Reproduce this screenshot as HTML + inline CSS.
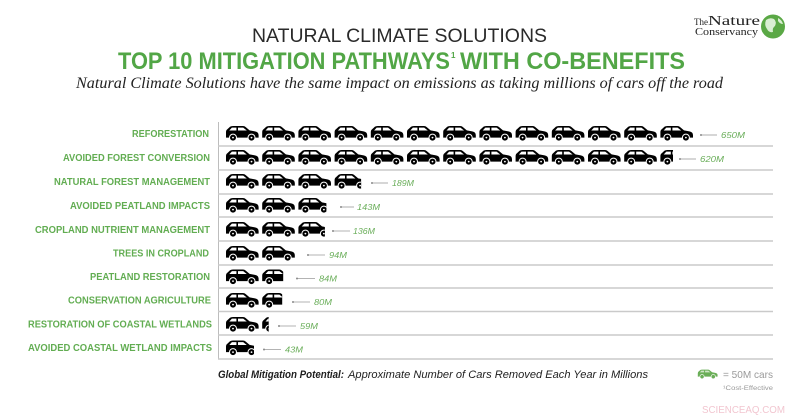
<!DOCTYPE html>
<html>
<head>
<meta charset="utf-8">
<style>
html,body{margin:0;padding:0;background:#fff;}
svg{display:block;}
</style>
</head>
<body>
<svg width="800" height="418" viewBox="0 0 800 418" xmlns="http://www.w3.org/2000/svg">
<defs>
  <symbol id="car" viewBox="0 0 34 16.5" width="34" height="16.5" overflow="visible">
    <path d="M1,12.6 L1,7 Q1,5 2.6,4 L5,1.8 Q6,1 8,1 L18,1 Q19.6,1 20.6,2 L24.6,5.4 L30,6.4 Q33.6,7.2 33.6,10 L33.6,12.6 Z" fill="#000"/>
    <path d="M4.3,5.5 L6.9,2.6 L11.4,2.6 L11.4,5.5 Z" fill="#fff"/>
    <path d="M13,2.6 L18.2,2.6 L21.8,5.5 L13,5.5 Z" fill="#fff"/>
    <circle cx="8" cy="12.6" r="3.5" fill="#000" stroke="#fff" stroke-width="1"/>
    <circle cx="26.5" cy="12.6" r="3.5" fill="#000" stroke="#fff" stroke-width="1"/>
    <circle cx="8" cy="12.6" r="0.9" fill="#fff"/>
    <circle cx="26.5" cy="12.6" r="0.9" fill="#fff"/>
  </symbol>
  <symbol id="gcar" viewBox="0 0 34 16.5" width="34" height="16.5" overflow="visible">
    <path d="M1,12.6 L1,7 Q1,5 2.6,4 L5,1.8 Q6,1 8,1 L18,1 Q19.6,1 20.6,2 L24.6,5.4 L30,6.4 Q33.6,7.2 33.6,10 L33.6,12.6 Z" fill="#6aae57"/>
    <path d="M4.3,5.5 L6.9,2.6 L11.4,2.6 L11.4,5.5 Z" fill="#cfe6c6"/>
    <path d="M13,2.6 L18.2,2.6 L21.8,5.5 L13,5.5 Z" fill="#cfe6c6"/>
    <circle cx="8" cy="12.6" r="3.5" fill="#6aae57" stroke="#fff" stroke-width="1"/>
    <circle cx="26.5" cy="12.6" r="3.5" fill="#6aae57" stroke="#fff" stroke-width="1"/>
  </symbol>
</defs>

<!-- Titles -->
<text x="252" y="42" font-family="'Liberation Sans', sans-serif" font-size="19.5" fill="#2a2a2a" textLength="295" lengthAdjust="spacingAndGlyphs">NATURAL CLIMATE SOLUTIONS</text>
<text x="118" y="69" font-family="'Liberation Sans', sans-serif" font-size="24" font-weight="bold" fill="#52a646" textLength="332" lengthAdjust="spacingAndGlyphs">TOP 10 MITIGATION PATHWAYS</text>
<text x="451" y="58" font-family="'Liberation Sans', sans-serif" font-size="8" font-weight="bold" fill="#52a646">1</text>
<text x="460" y="69" font-family="'Liberation Sans', sans-serif" font-size="24" font-weight="bold" fill="#52a646" textLength="225" lengthAdjust="spacingAndGlyphs">WITH CO-BENEFITS</text>
<text x="76" y="88" font-family="'Liberation Serif', serif" font-style="italic" font-size="15.5" fill="#222" textLength="647" lengthAdjust="spacingAndGlyphs">Natural Climate Solutions have the same impact on emissions as taking millions of cars off the road</text>

<!-- Logo -->
<text x="694" y="25" font-family="'Liberation Serif', serif" font-size="9" fill="#222">The</text>
<text x="708" y="25" font-family="'Liberation Serif', serif" font-size="14" fill="#222" textLength="52" lengthAdjust="spacingAndGlyphs">Nature</text>
<text x="695" y="35" font-family="'Liberation Serif', serif" font-size="11" fill="#222" textLength="63" lengthAdjust="spacingAndGlyphs">Conservancy</text>
<circle cx="773" cy="26.5" r="12" fill="#5aa845"/>
<path d="M766,20 Q770,17 774,19 Q777,22 775,26 Q772,28 773,32 Q769,33 767,29 Q764,25 766,20 Z" fill="#d9eed2"/>
<path d="M778,18 Q782,20 783,24 Q780,24 778,21 Z" fill="#d9eed2"/>

<!-- Axis and separators -->
<line x1="218.5" y1="122" x2="218.5" y2="359" stroke="#bdbdbd" stroke-width="1"/>
<g stroke="#cacaca" stroke-width="1.5">
  <line x1="218" y1="146" x2="773" y2="146"/>
  <line x1="218" y1="170" x2="773" y2="170"/>
  <line x1="218" y1="194" x2="773" y2="194"/>
  <line x1="218" y1="217" x2="773" y2="217"/>
  <line x1="218" y1="241" x2="773" y2="241"/>
  <line x1="218" y1="265" x2="773" y2="265"/>
  <line x1="218" y1="288" x2="773" y2="288"/>
  <line x1="218" y1="311.5" x2="773" y2="311.5"/>
  <line x1="218" y1="335" x2="773" y2="335"/>
  <line x1="218" y1="359" x2="773" y2="359"/>
</g>

<!-- Category labels -->
<g font-family="'Liberation Sans', sans-serif" font-size="10" font-weight="bold" fill="#62ad52">
  <text x="132" y="137" textLength="77" lengthAdjust="spacingAndGlyphs">REFORESTATION</text>
  <text x="63" y="161" textLength="147" lengthAdjust="spacingAndGlyphs">AVOIDED FOREST CONVERSION</text>
  <text x="54" y="185" textLength="156" lengthAdjust="spacingAndGlyphs">NATURAL FOREST MANAGEMENT</text>
  <text x="70" y="209" textLength="140" lengthAdjust="spacingAndGlyphs">AVOIDED PEATLAND IMPACTS</text>
  <text x="35" y="233" textLength="175" lengthAdjust="spacingAndGlyphs">CROPLAND NUTRIENT MANAGEMENT</text>
  <text x="113" y="256.5" textLength="96" lengthAdjust="spacingAndGlyphs">TREES IN CROPLAND</text>
  <text x="90" y="280" textLength="120" lengthAdjust="spacingAndGlyphs">PEATLAND RESTORATION</text>
  <text x="68" y="303.5" textLength="143" lengthAdjust="spacingAndGlyphs">CONSERVATION AGRICULTURE</text>
  <text x="28" y="327.5" textLength="184" lengthAdjust="spacingAndGlyphs">RESTORATION OF COASTAL WETLANDS</text>
  <text x="28" y="351" textLength="184" lengthAdjust="spacingAndGlyphs">AVOIDED COASTAL WETLAND IMPACTS</text>
</g>

<!-- Row 1: 13 cars -->
<g>
  <use href="#car" x="225" y="125"/><use href="#car" x="261.2" y="125"/><use href="#car" x="297.4" y="125"/><use href="#car" x="333.6" y="125"/><use href="#car" x="369.8" y="125"/><use href="#car" x="406" y="125"/><use href="#car" x="442.2" y="125"/><use href="#car" x="478.4" y="125"/><use href="#car" x="514.6" y="125"/><use href="#car" x="550.8" y="125"/><use href="#car" x="587" y="125"/><use href="#car" x="623.2" y="125"/><use href="#car" x="659.4" y="125"/>
</g>
<!-- Row 2: 12.4 -->
<g>
  <use href="#car" x="225" y="149"/><use href="#car" x="261.2" y="149"/><use href="#car" x="297.4" y="149"/><use href="#car" x="333.6" y="149"/><use href="#car" x="369.8" y="149"/><use href="#car" x="406" y="149"/><use href="#car" x="442.2" y="149"/><use href="#car" x="478.4" y="149"/><use href="#car" x="514.6" y="149"/><use href="#car" x="550.8" y="149"/><use href="#car" x="587" y="149"/><use href="#car" x="623.2" y="149"/>
  <svg x="659.4" y="149" width="13.6" height="17" viewBox="0 0 13.6 17"><use href="#car" x="0" y="0"/></svg>
</g>
<!-- Row 3: 3.78 -->
<g>
  <use href="#car" x="225" y="173"/><use href="#car" x="261.2" y="173"/><use href="#car" x="297.4" y="173"/>
  <svg x="333.6" y="173" width="27.5" height="17" viewBox="0 0 27.5 17"><use href="#car" x="0" y="0"/></svg>
</g>
<!-- Row 4: 2.86 -->
<g>
  <use href="#car" x="225" y="197"/><use href="#car" x="261.2" y="197"/>
  <svg x="297.4" y="197" width="29" height="17" viewBox="0 0 29 17"><use href="#car" x="0" y="0"/></svg>
</g>
<!-- Row 5: 2.72 -->
<g>
  <use href="#car" x="225" y="221"/><use href="#car" x="261.2" y="221"/>
  <svg x="297.4" y="221" width="27.5" height="17" viewBox="0 0 27.5 17"><use href="#car" x="0" y="0"/></svg>
</g>
<!-- Row 6: 1.88 -->
<g>
  <use href="#car" x="225" y="245"/><use href="#car" x="261.2" y="245"/>
</g>
<!-- Row 7: 1.68 -->
<g>
  <use href="#car" x="225" y="268.5"/>
  <svg x="261.2" y="268.5" width="22" height="17" viewBox="0 0 22 17"><use href="#car" x="0" y="0"/></svg>
</g>
<!-- Row 8: 1.6 -->
<g>
  <use href="#car" x="225" y="292"/>
  <svg x="261.2" y="292" width="21" height="17" viewBox="0 0 21 17"><use href="#car" x="0" y="0"/></svg>
</g>
<!-- Row 9: 1.18 -->
<g>
  <use href="#car" x="225" y="316"/>
  <svg x="261.2" y="316" width="7.5" height="17" viewBox="0 0 7.5 17"><use href="#car" x="0" y="0"/></svg>
</g>
<!-- Row 10: 0.86 -->
<g>
  <svg x="225" y="339.5" width="29" height="17" viewBox="0 0 29 17"><use href="#car" x="0" y="0"/></svg>
</g>

<!-- Value pointers -->
<g stroke="#9a9a9a" stroke-width="0.8">
  <line x1="701" y1="135" x2="717" y2="135"/>
  <line x1="680" y1="159" x2="696" y2="159"/>
  <line x1="372" y1="183" x2="388" y2="183"/>
  <line x1="341" y1="207" x2="354" y2="207"/>
  <line x1="333" y1="231" x2="350" y2="231"/>
  <line x1="308" y1="255" x2="325" y2="255"/>
  <line x1="297" y1="278.5" x2="315" y2="278.5"/>
  <line x1="293" y1="302" x2="310" y2="302"/>
  <line x1="279" y1="326" x2="296" y2="326"/>
  <line x1="264" y1="349.5" x2="281" y2="349.5"/>
</g>
<g fill="#8a8a8a">
  <circle cx="701" cy="135" r="1"/><circle cx="680" cy="159" r="1"/><circle cx="372" cy="183" r="1"/><circle cx="341" cy="207" r="1"/><circle cx="333" cy="231" r="1"/><circle cx="308" cy="255" r="1"/><circle cx="297" cy="278.5" r="1"/><circle cx="293" cy="302" r="1"/><circle cx="279" cy="326" r="1"/><circle cx="264" cy="349.5" r="1"/>
</g>
<g font-family="'Liberation Sans', sans-serif" font-size="8.5" font-style="italic" fill="#6aae5a">
  <text x="721" y="138" textLength="24" lengthAdjust="spacingAndGlyphs">650M</text>
  <text x="700" y="162" textLength="24" lengthAdjust="spacingAndGlyphs">620M</text>
  <text x="392" y="186" textLength="22" lengthAdjust="spacingAndGlyphs">189M</text>
  <text x="357" y="210" textLength="23" lengthAdjust="spacingAndGlyphs">143M</text>
  <text x="353" y="234" textLength="22" lengthAdjust="spacingAndGlyphs">136M</text>
  <text x="329" y="258" textLength="18" lengthAdjust="spacingAndGlyphs">94M</text>
  <text x="319" y="281.5" textLength="18" lengthAdjust="spacingAndGlyphs">84M</text>
  <text x="314" y="305" textLength="18" lengthAdjust="spacingAndGlyphs">80M</text>
  <text x="300" y="329" textLength="18" lengthAdjust="spacingAndGlyphs">59M</text>
  <text x="285" y="352.5" textLength="18" lengthAdjust="spacingAndGlyphs">43M</text>
</g>

<!-- Footer legend -->
<text x="218" y="378" font-family="'Liberation Sans', sans-serif" font-size="11" font-style="italic" font-weight="bold" fill="#1e1e1e" textLength="126" lengthAdjust="spacingAndGlyphs">Global Mitigation Potential:</text>
<text x="348" y="378" font-family="'Liberation Sans', sans-serif" font-size="11" font-style="italic" fill="#1e1e1e" textLength="300" lengthAdjust="spacingAndGlyphs">Approximate Number of Cars Removed Each Year in Millions</text>

<svg x="697" y="369" width="21" height="10" viewBox="0 0 34 16.5"><use href="#gcar" x="0" y="0"/></svg>
<text x="723" y="378" font-family="'Liberation Sans', sans-serif" font-size="10.5" fill="#9a9a9a" textLength="50" lengthAdjust="spacingAndGlyphs">= 50M cars</text>
<text x="723" y="390" font-family="'Liberation Sans', sans-serif" font-size="6.5" fill="#9a9a9a" textLength="50" lengthAdjust="spacingAndGlyphs">¹Cost-Effective</text>

<text x="702" y="413" font-family="'Liberation Sans', sans-serif" font-size="10" fill="#f2c6d0" textLength="83" lengthAdjust="spacingAndGlyphs">SCIENCEAQ.COM</text>
</svg>
</body>
</html>
